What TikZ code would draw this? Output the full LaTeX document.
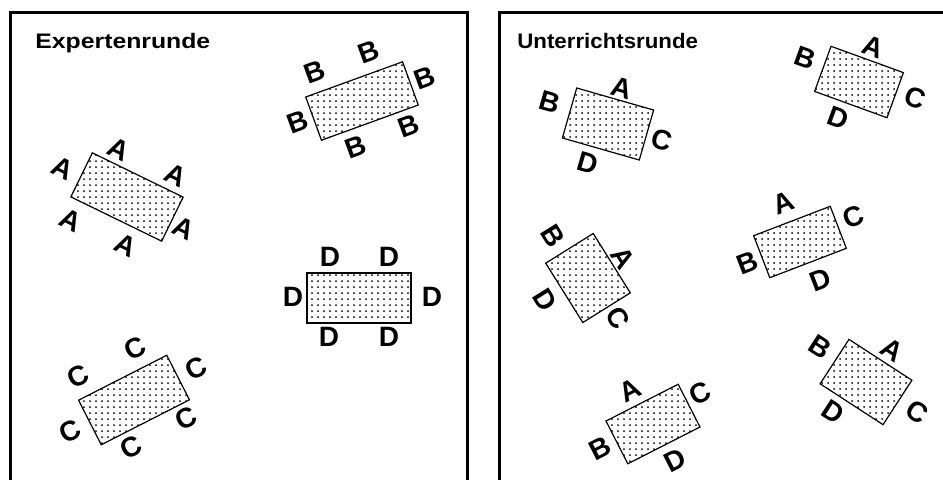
\documentclass[tikz,border=0pt]{standalone}
\usepackage{fontspec}
\setmainfont{Liberation Sans}
\usetikzlibrary{patterns}

\begin{document}
\begin{tikzpicture}[x=0.5pt, y=-0.5pt,
  frame/.style={line width=1.5pt},
  desk/.style 2 args={draw, line width=0.6pt, rectangle, pattern=dots, inner sep=0pt,
    minimum width=#1*0.5pt, minimum height=#2*0.5pt},
  seat/.style={font=\bfseries\fontsize{14}{14}\selectfont, inner sep=0pt},
  roundtitle/.style={font=\bfseries\fontsize{10.5}{12}\selectfont, anchor=base west, inner sep=0pt}
]
\useasboundingbox (0,0) rectangle (943,479);

% ===== LEFT PANEL: Expertenrunde =====
\draw[frame] (10.5,490) -- (10.5,12.5) -- (467.5,12.5) -- (467.5,490);
\node[roundtitle] (expert) at (35,48) {\scalebox{1.18}[1]{Expertenrunde}};

% Group A
\node[desk={101}{49}, rotate=-26] (deskA) at (127,197) {};
\node[seat, rotate=-26] (a1) at (63,168) {A};
\node[seat, rotate=-26] (a2) at (119,149) {A};
\node[seat, rotate=-26] (a3) at (176,175) {A};
\node[seat, rotate=-26] (a4) at (71,220) {A};
\node[seat, rotate=-26] (a5) at (184,228) {A};
\node[seat, rotate=-26] (a6) at (126,245) {A};

% Group B
\node[desk={103}{46}, rotate=20] (deskB) at (362,101) {};
\node[seat, rotate=20] (b1) at (315,72) {B};
\node[seat, rotate=20] (b2) at (369,52) {B};
\node[seat, rotate=20] (b3) at (425,78) {B};
\node[seat, rotate=20] (b4) at (298,122) {B};
\node[seat, rotate=20] (b5) at (356,147) {B};
\node[seat, rotate=20] (b6) at (409,126) {B};

% Group D
\node[desk={104}{50}, line width=1pt] (deskD) at (359,298) {};
\node[seat] (d1) at (330,257) {D};
\node[seat] (d2) at (389,257) {D};
\node[seat] (d3) at (293,297) {D};
\node[seat] (d4) at (432,297) {D};
\node[seat] (d5) at (329,337) {D};
\node[seat] (d6) at (389,337) {D};

% Group C
\node[desk={99}{50}, rotate=27] (deskC) at (134,400) {};
\node[seat, rotate=27] (c1) at (78,376) {C};
\node[seat, rotate=27] (c2) at (135,348) {C};
\node[seat, rotate=27] (c3) at (196,368) {C};
\node[seat, rotate=27] (c4) at (70,431) {C};
\node[seat, rotate=27] (c5) at (186,418) {C};
\node[seat, rotate=27] (c6) at (131,447) {C};

% ===== RIGHT PANEL: Unterrichtsrunde =====
\draw[frame] (499.5,490) -- (499.5,12.5) -- (960,12.5);
\node[roundtitle] (lesson) at (517,48) {\scalebox{1.06}[1]{Unterrichtsrunde}};

% Table 1
\node[desk={80}{52}, rotate=-16] (desk1) at (608,124) {};
\node[seat, rotate=-16] (t1b) at (550,102) {B};
\node[seat, rotate=-16] (t1a) at (622,88) {A};
\node[seat, rotate=-16] (t1c) at (662,140) {C};
\node[seat, rotate=-16] (t1d) at (588,163) {D};

% Table 2
\node[desk={77}{48}, rotate=-20] (desk2) at (859,82) {};
\node[seat, rotate=-20] (t2b) at (805,58) {B};
\node[seat, rotate=-20] (t2a) at (873,47) {A};
\node[seat, rotate=-20] (t2c) at (915,98) {C};
\node[seat, rotate=-20] (t2d) at (838,118) {D};

% Table 3
\node[desk={82}{45}, rotate=21] (desk3) at (800,242) {};
\node[seat, rotate=21] (t3a) at (783,203) {A};
\node[seat, rotate=21] (t3c) at (853,217) {C};
\node[seat, rotate=21] (t3b) at (747,263) {B};
\node[seat, rotate=21] (t3d) at (820,280) {D};

% Table 4
\node[desk={56}{70}, rotate=32] (desk4) at (588,278) {};
\node[seat, rotate=-58] (t4b) at (553,236) {B};
\node[seat, rotate=-58] (t4a) at (623,258) {A};
\node[seat, rotate=-58] (t4d) at (545,300) {D};
\node[seat, rotate=-58] (t4c) at (618,318) {C};

% Table 5
\node[desk={81}{48}, rotate=27] (desk5) at (653,424) {};
\node[seat, rotate=27] (t5a) at (630,390) {A};
\node[seat, rotate=27] (t5c) at (700,393) {C};
\node[seat, rotate=27] (t5b) at (600,448) {B};
\node[seat, rotate=27] (t5d) at (675,460) {D};

% Table 6
\node[desk={75}{53}, rotate=-33] (desk6) at (866,382) {};
\node[seat, rotate=-33] (t6b) at (820,347) {B};
\node[seat, rotate=-33] (t6a) at (892,350) {A};
\node[seat, rotate=-33] (t6d) at (833,412) {D};
\node[seat, rotate=-33] (t6c) at (917,412) {C};

\end{tikzpicture}
\end{document}
